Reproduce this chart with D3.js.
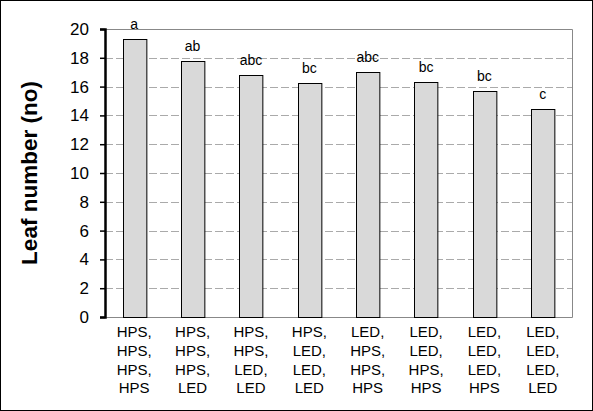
<!DOCTYPE html>
<html><head><meta charset="utf-8">
<script src="https://cdn.jsdelivr.net/npm/d3@7"></script>
<style>body{margin:0;background:#fff}svg{display:block}</style>
</head><body>
<script>
const categories = [
  ["HPS,","HPS,","HPS,","HPS"],
  ["HPS,","HPS,","HPS,","LED"],
  ["HPS,","HPS,","LED,","LED"],
  ["HPS,","LED,","LED,","LED"],
  ["LED,","HPS,","HPS,","HPS"],
  ["LED,","LED,","HPS,","HPS"],
  ["LED,","LED,","LED,","HPS"],
  ["LED,","LED,","LED,","LED"]
];
const values = [19.3, 17.8, 16.8, 16.25, 17.0, 16.3, 15.7, 14.45];
const letters = ["a","ab","abc","bc","abc","bc","bc","c"];
const yTicks = [0,2,4,6,8,10,12,14,16,18,20];
const yTitle = "Leaf number (no)";

const W = 593, H = 411;
const m = {left:105, right:21, top:29, bottom:94};
const svg = d3.select("body").append("svg").attr("width",W).attr("height",H);
svg.append("rect").attr("x",0.5).attr("y",0.5).attr("width",W-1).attr("height",H-1)
  .attr("fill","#fff").attr("stroke","#000");

const x = d3.scaleBand().domain(d3.range(categories.length)).range([m.left, W-m.right]).paddingInner(0.6).paddingOuter(0.3);
const y = d3.scaleLinear().domain([0,20]).range([H-m.bottom, m.top]);

// gridlines
svg.append("g").selectAll("line").data(yTicks.filter(t=>t>0 && t<20)).join("line")
  .attr("x1",m.left).attr("x2",W-m.right)
  .attr("y1",d=>Math.round(y(d))+0.5).attr("y2",d=>Math.round(y(d))+0.5)
  .attr("stroke","#aaa").attr("stroke-dasharray","8,3");
// plot border top/right/bottom
svg.append("path")
  .attr("d",`M${m.left},${y(20)+0.5}H${W-m.right+0.5}V${y(0)+0.5}H${m.left}`)
  .attr("fill","none").attr("stroke","#888");

// bars
svg.append("g").selectAll("rect").data(values).join("rect")
  .attr("x",(d,i)=>Math.round(x(i))+0.5).attr("width",x.bandwidth())
  .attr("y",d=>Math.round(y(d))+0.5).attr("height",d=>y(0)-Math.round(y(d)))
  .attr("fill","#d9d9d9").attr("stroke","#000");

// letters
svg.append("g").selectAll("text").data(letters).join("text")
  .attr("x",(d,i)=>x(i)+x.bandwidth()/2).attr("y",(d,i)=>y(values[i])-10)
  .attr("text-anchor","middle").attr("font-family","Liberation Sans, Arial, sans-serif")
  .attr("font-size",14).attr("fill","#000").text(d=>d);

// y axis
const ya = svg.append("g").attr("transform",`translate(${m.left},0)`)
  .call(d3.axisLeft(y).tickValues(yTicks).tickSize(5).tickPadding(11));
ya.select(".domain").attr("stroke","#000").attr("stroke-width",2.5);
ya.selectAll(".tick line").attr("stroke","#000").attr("stroke-width",1.5);
ya.selectAll("text").attr("font-family","Liberation Sans, Arial, sans-serif").attr("font-size",17).attr("fill","#000");

// x labels
const xl = svg.append("g");
categories.forEach((c,i)=>{
  const t = xl.append("text").attr("text-anchor","middle")
    .attr("font-family","Liberation Sans, Arial, sans-serif").attr("font-size",15).attr("fill","#000");
  c.forEach((s,j)=>{
    t.append("tspan").attr("x",x(i)+x.bandwidth()/2).attr("y",337+j*18.8).text(s);
  });
});

// y title
svg.append("text").attr("transform",`translate(37,${(y(0)+y(20))/2}) rotate(-90)`)
  .attr("text-anchor","middle").attr("font-family","Liberation Sans, Arial, sans-serif")
  .attr("font-size",22.5).attr("font-weight","bold").attr("fill","#000").text(yTitle);
</script>
</body></html>
